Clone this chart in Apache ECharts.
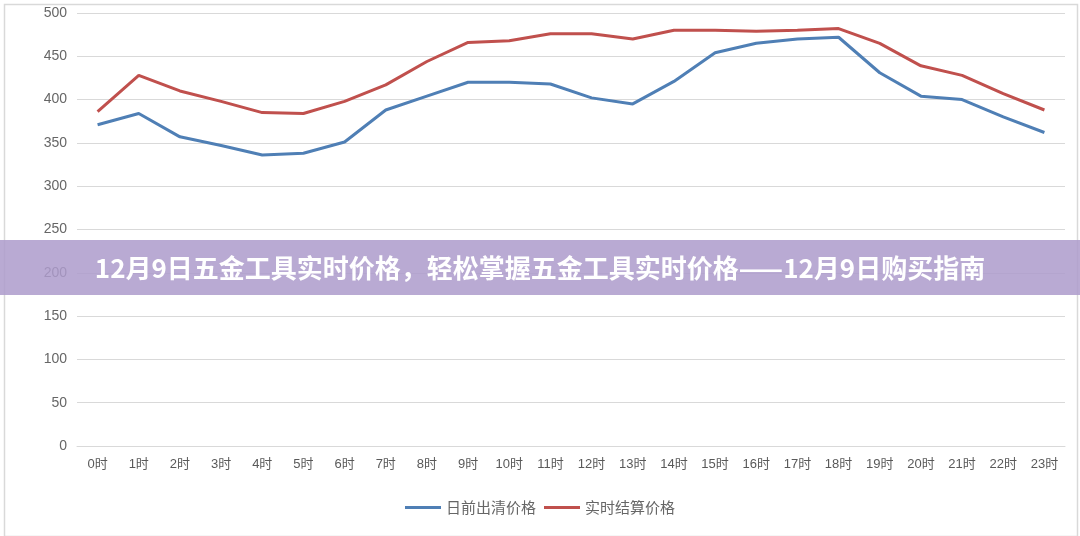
<!DOCTYPE html>
<html>
<head>
<meta charset="utf-8">
<script src="https://cdn.jsdelivr.net/npm/echarts@6/dist/echarts.min.js"></script>
<style>
html,body{margin:0;padding:0;background:#fff;}
#c{width:1080px;height:536px;}
</style>
</head>
<body>
<div id="c"></div>
<script>
const hours = ['0时','1时','2时','3时','4时','5时','6时','7时','8时','9时','10时','11时','12时','13时','14时','15时','16时','17时','18时','19时','20时','21时','22时','23时'];
const dayAheadPrice = [371, 384, 357, 347, 336, 338, 351, 388, 404, 420, 420, 418, 402, 395, 421, 454, 465, 470, 472, 431, 404, 400, 380, 362];
const realTimePrice = [386, 428, 410, 398, 385, 384, 398, 417, 444, 466, 468, 476, 476, 470, 480, 480, 479, 480, 482, 465, 439, 428, 407, 388];
const seriesNames = ['日前出清价格', '实时结算价格'];
const titleText = '12月9日五金工具实时价格，轻松掌握五金工具实时价格——12月9日购买指南';

const chart = echarts.init(document.getElementById('c'));
const font = '"Liberation Sans", "Noto Sans CJK SC", sans-serif';
chart.setOption({
  animation: false,
  backgroundColor: '#fff',
  grid: { left: 77, right: 15, top: 13, bottom: 90 },
  legend: {
    bottom: 16,
    left: 'center',
    itemWidth: 36,
    itemHeight: 3,
    itemGap: 8,
    icon: 'rect',
    textStyle: { color: '#666', fontSize: 15, fontFamily: '"Noto Sans CJK SC", sans-serif' },
    data: seriesNames
  },
  xAxis: {
    type: 'category',
    data: hours,
    boundaryGap: true,
    axisLine: { lineStyle: { color: '#d9d9d9', width: 1 } },
    axisTick: { show: false },
    axisLabel: { color: '#595959', fontSize: 13, fontFamily: font, margin: 12, interval: 0 }
  },
  yAxis: {
    type: 'value',
    min: 0, max: 500, interval: 50,
    axisLine: { show: false },
    axisTick: { show: false },
    splitLine: { lineStyle: { color: '#d9d9d9', width: 1 } },
    axisLabel: { color: '#666', fontSize: 14, fontFamily: font, margin: 10 }
  },
  series: [
    {
      name: seriesNames[0], type: 'line', data: dayAheadPrice,
      symbol: 'none', lineStyle: { color: '#4f7fb5', width: 3 },
      itemStyle: { color: '#4f7fb5' }
    },
    {
      name: seriesNames[1], type: 'line', data: realTimePrice,
      symbol: 'none', lineStyle: { color: '#c0504d', width: 3 },
      itemStyle: { color: '#c0504d' }
    }
  ],
  graphic: [
    { type: 'rect', left: 2, top: 2, z: 0, silent: true,
      shape: { width: 1073, height: 532 },
      style: { fill: 'none', stroke: '#d9d9d9', lineWidth: 1.5 } },
    { type: 'rect', left: 0, top: 240, z: 100,
      shape: { width: 1080, height: 55 },
      style: { fill: 'rgba(173,155,203,0.85)' } },
    { type: 'text', x: 540, y: 268, z: 101,
      style: { text: titleText, fill: '#fff', fontSize: 26, fontWeight: 'bold',
               align: 'center', verticalAlign: 'middle',
               fontFamily: '"Noto Sans CJK SC", sans-serif' } }
  ]
});
</script>
</body>
</html>
